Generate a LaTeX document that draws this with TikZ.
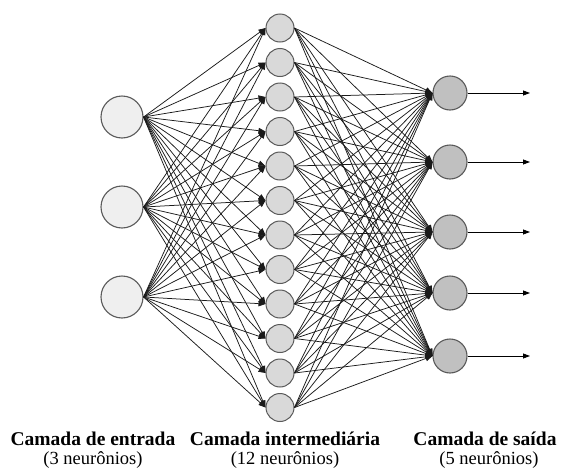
\documentclass[tikz,border=0pt]{standalone}
\usepackage{fontspec}
\setmainfont{Liberation Serif}
\usetikzlibrary{arrows.meta}
\definecolor{infill}{HTML}{EFEFEF}
\definecolor{hidfill}{HTML}{D9D9D9}
\definecolor{outfill}{HTML}{C0C0C0}
\definecolor{rim}{HTML}{5A5A5A}
\definecolor{wire}{HTML}{1A1A1A}
\begin{document}
\begin{tikzpicture}[x=1pt,y=-1pt,
  inneuron/.style={circle,draw=rim,line width=1.1pt,fill=infill,minimum size=42pt,inner sep=0pt},
  hidneuron/.style={circle,draw=rim,line width=1pt,fill=hidfill,minimum size=28pt,inner sep=0pt},
  outneuron/.style={circle,draw=rim,line width=1.1pt,fill=outfill,minimum size=34pt,inner sep=0pt},
  link/.style={draw=wire,line width=0.75pt,-{Triangle[length=7pt,width=5.5pt]}},
  outlink/.style={draw=black,line width=0.8pt,-{Triangle[length=7pt,width=5pt]}},
  title/.style={font=\fontsize{19.5}{22}\selectfont\bfseries,anchor=base},
  sub/.style={font=\fontsize{18.5}{22}\selectfont,anchor=base}]
\useasboundingbox (0,0) rectangle (566,469);
% input layer
\foreach \i/\y in {1/117,2/207,3/297}
  \node[inneuron] (i\i) at (122,\y) {};
% hidden layer
\foreach \j in {1,...,12}
  \node[hidneuron] (h\j) at (280,{28+34.5*(\j-1)}) {};
% output layer
\foreach \k/\y in {1/93,2/162,3/232,4/293,5/356}
  \node[outneuron] (o\k) at (450,\y) {};
% connections input -> hidden
\foreach \i in {1,2,3}
  \foreach \j in {1,...,12}
    \draw[link] (i\i.east) -- (h\j.west);
% connections hidden -> output
\foreach \j in {1,...,12}
  \foreach \k in {1,...,5}
    \draw[link] (h\j.east) -- (o\k.west);
% outputs
\foreach \k/\y in {1/93,2/162,3/232,4/293,5/356} {
  \coordinate (e\k) at (530,\y);
  \draw[outlink] (o\k.east) -- (e\k);
}
% labels
\node[title] (t1) at (93,445) {Camada de entrada};
\node[sub] (s1) at (93,464) {(3 neurônios)};
\node[title] (t2) at (285,445) {Camada intermediária};
\node[sub] (s2) at (285,464) {(12 neurônios)};
\node[title] (t3) at (485,445) {Camada de saída};
\node[sub] (s3) at (489,464) {(5 neurônios)};
\end{tikzpicture}
\end{document}
